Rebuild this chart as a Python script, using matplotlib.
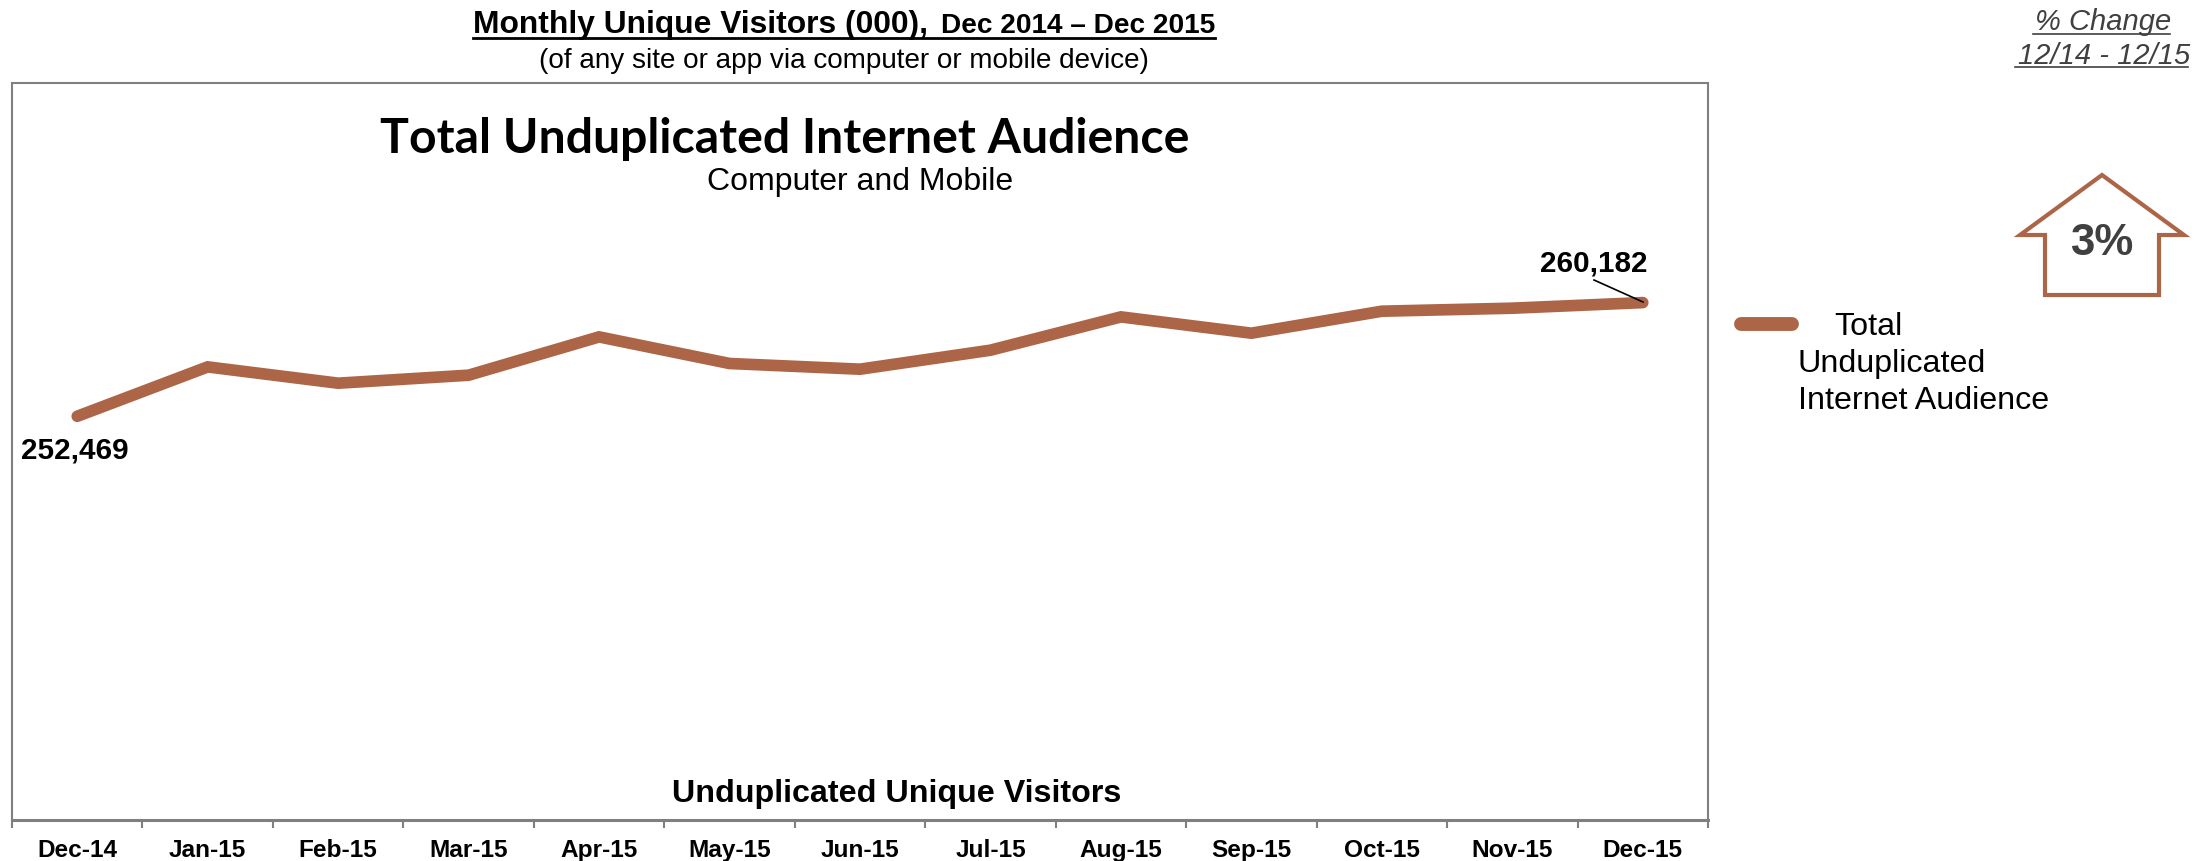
import matplotlib
matplotlib.use("Agg")
import matplotlib.pyplot as plt
from matplotlib.lines import Line2D
from matplotlib.patches import Polygon

plt.rcParams["font.family"] = ["Liberation Sans", "DejaVu Sans"]

months = ["Dec-14", "Jan-15", "Feb-15", "Mar-15", "Apr-15", "May-15", "Jun-15",
          "Jul-15", "Aug-15", "Sep-15", "Oct-15", "Nov-15", "Dec-15"]
visitors = [252469, 255820, 254714, 255257, 257855, 256050, 255664,
            256953, 259212, 258106, 259598, 259802, 260182]
series_name = "Total Unduplicated Internet Audience"
change_pct = "3%"

BROWN = "#ad6548"
GREY = "#7f7f7f"
DARK = "#404040"
W, H = 2205, 862

fig = plt.figure(figsize=(W / 100, H / 100), dpi=100, facecolor="white")

# main plot box, given in pixels from the top left of the figure
left, right, top, bottom = 12, 1708, 84, 821
ax = fig.add_axes([left / W, 1 - bottom / H, (right - left) / W, (bottom - top) / H])

x = list(range(len(months)))
ax.plot(x, visitors, color=BROWN, lw=8.4, solid_capstyle="round", solid_joinstyle="miter")
ax.set_xlim(-0.5, len(months) - 0.5)
ax.set_ylim(225080, 275080)
ax.set_yticks([])

# ticks sit between the months, labels in the middle of each slot
ax.set_xticks([i - 0.5 for i in range(len(months) + 1)])
ax.set_xticklabels([])
ax.set_xticks(x, minor=True)
ax.set_xticklabels(months, minor=True, fontsize=17.6, fontweight="bold")
ax.tick_params(axis="x", which="major", length=6, width=1.5, color=GREY)
ax.tick_params(axis="x", which="minor", length=0, pad=13)

for side in ["left", "right", "top"]:
    ax.spines[side].set_color(GREY)
    ax.spines[side].set_linewidth(1.5)
ax.spines["bottom"].set_color(GREY)
ax.spines["bottom"].set_linewidth(2.2)

# end point labels
ax.annotate("{:,}".format(visitors[0]), (x[0], visitors[0]), xytext=(-2, -41),
            textcoords="offset pixels", ha="center", va="baseline",
            fontsize=21.3, fontweight="bold")
ax.annotate("{:,}".format(visitors[-1]), (x[-1], visitors[-1]), xytext=(-49, 32),
            textcoords="offset pixels", ha="center", va="baseline",
            fontsize=21.3, fontweight="bold")

# everything around the plot is placed on a pixel overlay
over = fig.add_axes([0, 0, 1, 1], facecolor="none")
over.set_xlim(0, W)
over.set_ylim(H, 0)
over.axis("off")

over.add_line(Line2D([1594, 1643], [281, 303], color="black", lw=1.2))

over.text(473, 33, "Monthly Unique Visitors (000),", ha="left", va="baseline",
          fontsize=22.9, fontweight="bold")
over.text(1215, 33, "Dec 2014 \u2013 Dec 2015", ha="right", va="baseline",
          fontsize=20.2, fontweight="bold")
over.add_line(Line2D([473, 1215], [39, 39], color="black", lw=2))
over.text(844, 68, "(of any site or app via computer or mobile device)", ha="center",
          va="baseline", fontsize=20.1)

over.text(785, 153, series_name, ha="center", va="baseline", fontsize=34.7,
          fontweight="bold", family="Lato")
over.text(860, 190, "Computer and Mobile", ha="center", va="baseline", fontsize=23)
over.text(897, 802, "Unduplicated Unique Visitors", ha="center", va="baseline",
          fontsize=23.2, fontweight="bold")

# legend entry
over.add_line(Line2D([1741, 1792], [325, 325], color=BROWN, lw=10, solid_capstyle="round"))
over.text(1834, 335, "Total", va="baseline", fontsize=23.2)
over.text(1798, 372, "Unduplicated", va="baseline", fontsize=23.2)
over.text(1798, 409, "Internet Audience", va="baseline", fontsize=23.2)

# percent change panel
over.text(2103, 30, "% Change", ha="center", va="baseline", fontsize=21,
          style="italic", color=DARK)
over.add_line(Line2D([2033, 2170], [35, 35], color=DARK, lw=1.2))
over.text(2104, 64, "12/14 - 12/15", ha="center", va="baseline", fontsize=21,
          style="italic", color=DARK)
over.add_line(Line2D([2015, 2188], [68, 68], color=DARK, lw=1.2))

over.add_patch(Polygon([(2102, 176), (2184, 236), (2159, 236), (2159, 296),
                        (2045, 296), (2045, 236), (2020, 236)],
                       closed=True, facecolor="white", edgecolor=BROWN, lw=3,
                       joinstyle="miter"))
over.text(2102, 255, change_pct, ha="center", va="baseline", fontsize=31.5,
          fontweight="bold", color=DARK)

fig.savefig("out.png", dpi=100)
